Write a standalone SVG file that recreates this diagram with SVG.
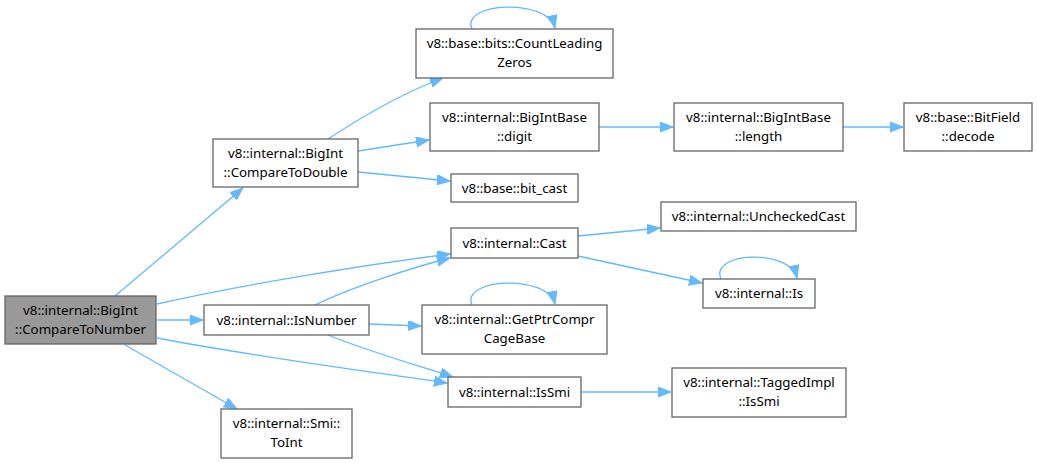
<svg xmlns="http://www.w3.org/2000/svg" width="1037" height="463" viewBox="0 0 1037 463">
<style>
.n rect{fill:#fff;stroke:#666;stroke-width:1.3}
.n.root rect{fill:#999}
text{font-family:"Noto Sans","DejaVu Sans",sans-serif;font-size:13.3px;fill:#000;text-anchor:middle}
.e path{fill:none;stroke:#63b8ff;stroke-width:1.3}
</style>
<defs>
<marker id="a" markerUnits="userSpaceOnUse" markerWidth="15" markerHeight="12" refX="13" refY="5" orient="auto">
<path d="M0,0 L13,5 L0,10 z" fill="#63b8ff" stroke="#63b8ff" stroke-width="1"/>
</marker>
</defs>
<rect width="1037" height="463" fill="#fff"/>
<g class="e">
<path d="M115,296 L243,188" marker-end="url(#a)"/>
<path d="M157,304 C240,285 370,264 450,254" marker-end="url(#a)"/>
<path d="M157,320 L203,320" marker-end="url(#a)"/>
<path d="M157,338 C250,356 380,373 447,383" marker-end="url(#a)"/>
<path d="M125,345 L237,409" marker-end="url(#a)"/>
<path d="M328,139 C360,118 400,94 443,78" marker-end="url(#a)"/>
<path d="M358,151 L429,140" marker-end="url(#a)"/>
<path d="M358,172 L450,181" marker-end="url(#a)"/>
<path d="M599,127 L673,127" marker-end="url(#a)"/>
<path d="M843,127 L903,127" marker-end="url(#a)"/>
<path d="M472,29 C460,2 548,-2 555,28" marker-end="url(#a)"/>
<path d="M578,236 L660,228" marker-end="url(#a)"/>
<path d="M578,256 L702,283" marker-end="url(#a)"/>
<path d="M721,279 C709,252 790,248 797,278" marker-end="url(#a)"/>
<path d="M315,305 C350,288 410,268 450,258" marker-end="url(#a)"/>
<path d="M369,324 L421,326" marker-end="url(#a)"/>
<path d="M328,335 C370,352 420,366 453,377" marker-end="url(#a)"/>
<path d="M472,305 C460,278 548,274 555,304" marker-end="url(#a)"/>
<path d="M581,392 L671,392" marker-end="url(#a)"/>
</g>
<g id="node1" class="n root"><rect x="5" y="296" width="151" height="48"/><text x="80.5" y="314.5">v8::internal::BigInt</text><text x="80.5" y="333.5">::CompareToNumber</text></g>
<g id="node2" class="n"><rect x="213" y="139" width="145" height="48"/><text x="285.5" y="157.5">v8::internal::BigInt</text><text x="285.5" y="176.5">::CompareToDouble</text></g>
<g id="node3" class="n"><rect x="416" y="29" width="197" height="49"/><text x="514.5" y="47.5">v8::base::bits::CountLeading</text><text x="514.5" y="66.5">Zeros</text></g>
<g id="node4" class="n"><rect x="430" y="103" width="169" height="48"/><text x="514.5" y="121.5">v8::internal::BigIntBase</text><text x="514.5" y="140.5">::digit</text></g>
<g id="node5" class="n"><rect x="451" y="174" width="127" height="28"/><text x="514.5" y="192.5">v8::base::bit_cast</text></g>
<g id="node6" class="n"><rect x="674" y="103" width="169" height="48"/><text x="758.5" y="121.5">v8::internal::BigIntBase</text><text x="758.5" y="140.5">::length</text></g>
<g id="node7" class="n"><rect x="904" y="103" width="128" height="48"/><text x="968" y="121.5">v8::base::BitField</text><text x="968" y="140.5">::decode</text></g>
<g id="node8" class="n"><rect x="661" y="202" width="195" height="29"/><text x="758.5" y="221">v8::internal::UncheckedCast</text></g>
<g id="node9" class="n"><rect x="451" y="228" width="127" height="30"/><text x="514.5" y="247.5">v8::internal::Cast</text></g>
<g id="node10" class="n"><rect x="703" y="279" width="112" height="29"/><text x="759" y="298">v8::internal::Is</text></g>
<g id="node11" class="n"><rect x="422" y="305" width="185" height="49"/><text x="514.5" y="323.5">v8::internal::GetPtrCompr</text><text x="514.5" y="342.5">CageBase</text></g>
<g id="node12" class="n"><rect x="448" y="377" width="133" height="30"/><text x="514.5" y="396.5">v8::internal::IsSmi</text></g>
<g id="node13" class="n"><rect x="672" y="368" width="174" height="49"/><text x="759" y="386.5">v8::internal::TaggedImpl</text><text x="759" y="405.5">::IsSmi</text></g>
<g id="node14" class="n"><rect x="204" y="305" width="165" height="30"/><text x="286.5" y="324.5">v8::internal::IsNumber</text></g>
<g id="node15" class="n"><rect x="221" y="409" width="131" height="49"/><text x="286.5" y="427.5">v8::internal::Smi::</text><text x="286.5" y="446.5">ToInt</text></g>
</svg>
